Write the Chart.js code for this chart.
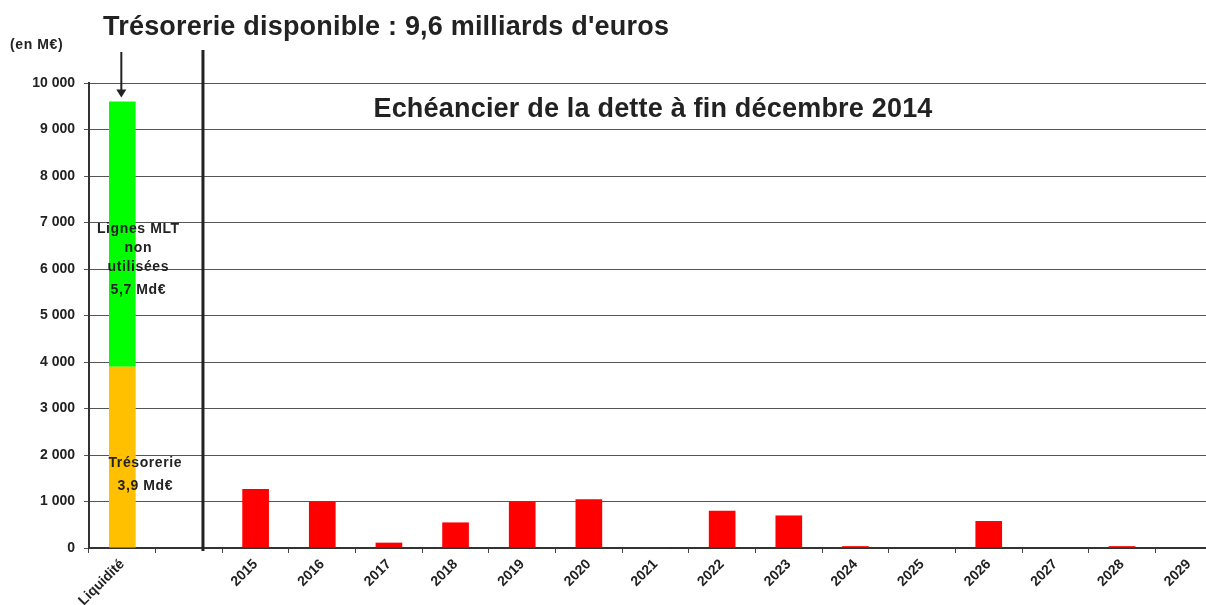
<!DOCTYPE html>
<html>
<head>
<meta charset="utf-8">
<script src="https://cdn.jsdelivr.net/npm/chart.js@4/dist/chart.umd.min.js"></script>
<style>
  html, body { margin: 0; padding: 0; background: #fff; overflow: hidden; }
  #wrap { position: relative; width: 1222px; height: 605px; }
</style>
</head>
<body>
<div id="wrap"><canvas id="chartCanvas"></canvas></div>
<script>
// categories and values (M€)
const categories = ['Liquidité', '', '2015', '2016', '2017', '2018', '2019', '2020', '2021',
  '2022', '2023', '2024', '2025', '2026', '2027', '2028', '2029'];
const tresorerie = [3900];
const lignesMLT = [5700];
const echeances = [null, null, 1270, 1000, 115, 550, 1000, 1050, 15, 800, 700, 40, 0, 580, 0, 40, 0];
const yTicks = [0, 1000, 2000, 3000, 4000, 5000, 6000, 7000, 8000, 9000, 10000];

const mainTitle = 'Trésorerie disponible : 9,6 milliards d\'euros';
const subTitle = 'Echéancier de la dette à fin décembre 2014';
const unitLabel = '(en M€)';

const FONT = 'Arial, "Liberation Sans", sans-serif';
const INK = '#222';

const fmt = v => v.toString().replace(/\B(?=(\d{3})+(?!\d))/g, ' ');

const overlay = {
  id: 'overlay',
  afterDraw(chart) {
    const ctx = chart.ctx;
    const x = chart.scales.x;
    const y = chart.scales.y;
    ctx.save();
    ctx.fillStyle = INK;
    ctx.textBaseline = 'middle';

    ctx.font = 'bold 27px ' + FONT;
    ctx.letterSpacing = '0.2px';
    ctx.textAlign = 'left';
    ctx.fillText(mainTitle, 103, 28);
    ctx.textAlign = 'center';
    ctx.fillText(subTitle, 653, 110);

    ctx.font = 'bold 14px ' + FONT;
    ctx.letterSpacing = '0.6px';
    ctx.textAlign = 'left';
    ctx.fillText(unitLabel, 10, 45);

    // separator between liquidity and maturities
    const step = x.getPixelForValue(1) - x.getPixelForValue(0);
    const sepX = x.getPixelForValue(1) + step * 0.21;
    ctx.strokeStyle = INK;
    ctx.lineWidth = 3;
    ctx.beginPath();
    ctx.moveTo(sepX, 50);
    ctx.lineTo(sepX, y.getPixelForValue(0) + 3);
    ctx.stroke();

    // arrow to top of liquidity bar
    const ax = x.getPixelForValue(0) - 1;
    const topY = y.getPixelForValue(tresorerie[0] + lignesMLT[0]);
    ctx.lineWidth = 2;
    ctx.beginPath();
    ctx.moveTo(ax, 52);
    ctx.lineTo(ax, topY - 10);
    ctx.stroke();
    ctx.beginPath();
    ctx.moveTo(ax - 5, topY - 12);
    ctx.lineTo(ax + 5, topY - 12);
    ctx.lineTo(ax, topY - 4);
    ctx.closePath();
    ctx.fill();

    // labels inside stacked bar
    const cx = x.getPixelForValue(0);
    ctx.font = 'bold 14px ' + FONT;
    ctx.letterSpacing = '0.6px';
    ctx.textAlign = 'center';
    ctx.fillText('Lignes MLT', cx + 16, 229);
    ctx.fillText('non', cx + 16, 248);
    ctx.fillText('utilisées', cx + 16, 267);
    ctx.fillText('5,7 Md€', cx + 16, 290);
    ctx.fillText('Trésorerie', cx + 23, 463);
    ctx.fillText('3,9 Md€', cx + 23, 486);
    ctx.restore();
  }
};

const ctx = document.getElementById('chartCanvas').getContext('2d');
new Chart(ctx, {
  type: 'bar',
  data: {
    labels: categories,
    datasets: [
      { label: 'Trésorerie', data: tresorerie, backgroundColor: '#FFC000' },
      { label: 'Lignes MLT non utilisées', data: lignesMLT, backgroundColor: '#00FF00' },
      { label: 'Echéances', data: echeances, backgroundColor: '#FF0000' }
    ]
  },
  options: {
    responsive: true,
    maintainAspectRatio: false,
    animation: false,
    layout: { padding: { top: 83, left: 0, right: 0, bottom: 0 } },
    datasets: { bar: { categoryPercentage: 1, barPercentage: 0.4, borderWidth: 0 } },
    plugins: { legend: { display: false }, tooltip: { enabled: false } },
    scales: {
      x: {
        stacked: true,
        afterFit: s => { s.height = 57; },
        grid: { drawOnChartArea: false, drawTicks: true, tickLength: 5, color: '#444', offset: true },
        border: { display: true, color: '#333', width: 2 },
        ticks: {
          color: INK, font: { family: FONT, size: 14, weight: 'bold' },
          minRotation: 45, maxRotation: 45, autoSkip: false, padding: 3
        }
      },
      y: {
        stacked: true,
        min: 0,
        max: 10000,
        afterFit: s => { s.width = 89; },
        afterBuildTicks: s => { s.ticks = yTicks.map(v => ({ value: v })); },
        grid: { color: '#555', lineWidth: 1, tickLength: 5 },
        border: { display: true, color: '#333', width: 2 },
        ticks: {
          color: INK, font: { family: FONT, size: 14, weight: 'bold' },
          padding: 9, callback: v => fmt(v)
        }
      }
    }
  },
  plugins: [overlay]
});
</script>
</body>
</html>
